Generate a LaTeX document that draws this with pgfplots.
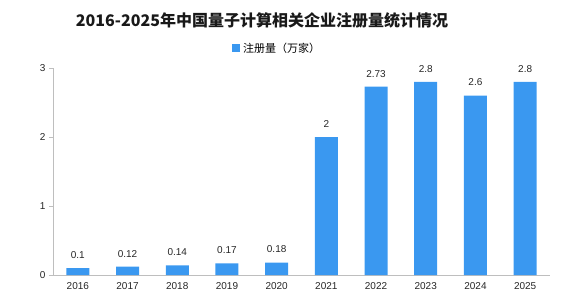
\documentclass[border=0pt]{standalone}
\usepackage{pgfplots}
\pgfplotsset{compat=1.18}
\usepackage{fontspec}
\setmainfont{Liberation Sans}
\newfontfamily\cjk{Noto Sans CJK SC}
\definecolor{barblue}{RGB}{58,152,240}
\definecolor{axgray}{RGB}{190,190,190}
\begin{document}
\begin{tikzpicture}
\useasboundingbox (0pt,0pt) rectangle (568pt,301pt);
\node[font=\cjk\bfseries\fontsize{16}{18}\selectfont, text=black!90] at (262pt,281pt) {2016-2025年中国量子计算相关企业注册量统计情况};
\fill[barblue] (232pt,249pt) rectangle (240pt,257pt);
\node[font=\cjk\fontsize{11}{13}\selectfont, anchor=west, inner sep=0pt] at (243pt,253pt) {注册量（万家）};
\begin{axis}[
  at={(53pt,26pt)}, anchor=south west,
  scale only axis, width=497pt, height=207pt,
  xmin=-0.5, xmax=9.5, ymin=0, ymax=3,
  axis x line*=bottom, axis y line*=left,
  axis line style={axgray, line width=1pt, -},
  xtick={0,...,9},
  xticklabels={2016,2017,2018,2019,2020,2021,2022,2023,2024,2025},
  major x tick style={draw=none},
  extra x ticks={-0.5,0.5,1.5,2.5,3.5,4.5,5.5,6.5,7.5,8.5,9.5},
  extra x tick labels={},
  extra x tick style={tick style={draw=axgray, line width=0.8pt}, major tick length=5pt, tick align=outside},
  ytick={0,1,2,3},
  ytick style={draw=axgray, line width=0.8pt},
  tick align=outside, major tick length=4pt,
  ticklabel style={font=\fontsize{10}{12}\selectfont, text=black!85},
  /pgf/number format/assume math mode=true,
  ybar, bar width=23pt,
  nodes near coords,
  point meta=explicit symbolic,
  every node near coord/.append style={font=\fontsize{10}{12}\selectfont, text=black!85, yshift=6pt},
]
\addplot[fill=barblue, draw=none] table[meta=lab] {
x y lab
0 0.10 0.1
1 0.12 0.12
2 0.14 0.14
3 0.17 0.17
4 0.18 0.18
5 2.00 2
6 2.73 2.73
7 2.80 2.8
8 2.60 2.6
9 2.80 2.8
};
\end{axis}
\end{tikzpicture}
\end{document}
